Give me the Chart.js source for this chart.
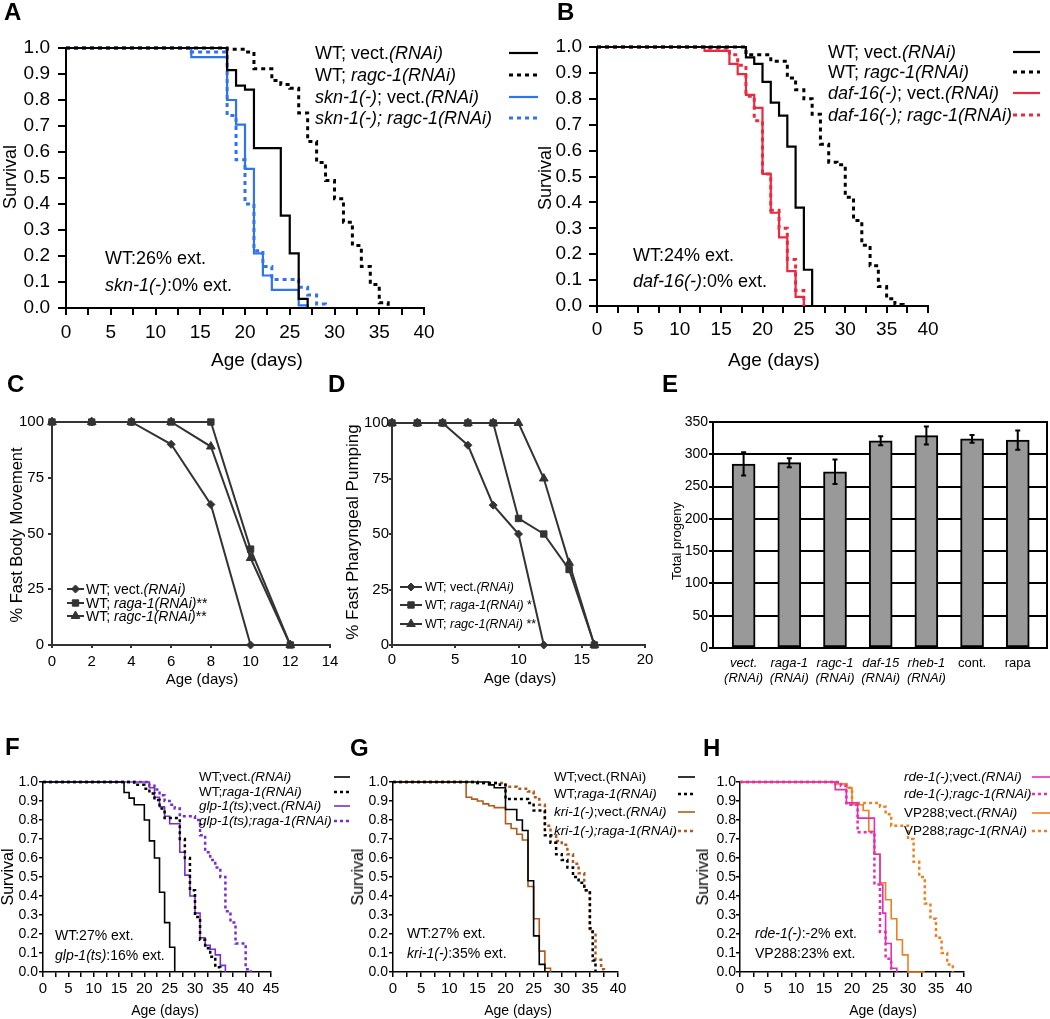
<!DOCTYPE html>
<html><head><meta charset="utf-8">
<script src="https://cdn.jsdelivr.net/npm/chart.js@4.4.1/dist/chart.umd.min.js"></script>
<style>
html,body{margin:0;padding:0;background:#fff;}
#wrap{position:relative;width:1050px;height:1019px;overflow:hidden;background:#fff;font-family:'Liberation Sans',Arial,sans-serif;color:#000;}
canvas{position:absolute;left:0;top:0;}
.t{position:absolute;white-space:nowrap;line-height:1;}
.l{transform:translateY(-50%);}
.c{transform:translate(-50%,-50%);}
.r{transform:translate(-50%,-50%) rotate(-90deg);}
.p{font-weight:bold;font-size:24px;}
</style></head>
<body><div id="wrap">
<canvas id="cA" width="1050" height="1019"></canvas>
<canvas id="cB" width="1050" height="1019"></canvas>
<canvas id="cC" width="1050" height="1019"></canvas>
<canvas id="cD" width="1050" height="1019"></canvas>
<canvas id="cE" width="1050" height="1019"></canvas>
<canvas id="cF" width="1050" height="1019"></canvas>
<canvas id="cG" width="1050" height="1019"></canvas>
<canvas id="cH" width="1050" height="1019"></canvas>

<!-- Panel A -->
<div class="t p l" style="left:4px;top:12px">A</div>
<div class="t l" style="left:315px;top:53px;font-size:18px">WT; vect.<i>(RNAi)</i></div>
<div class="t l" style="left:315px;top:75px;font-size:18px">WT; <i>ragc-1(RNAi)</i></div>
<div class="t l" style="left:315px;top:97px;font-size:18px"><i>skn-1(-)</i>; vect.<i>(RNAi)</i></div>
<div class="t l" style="left:315px;top:118px;font-size:18px"><i>skn-1(-); ragc-1(RNAi)</i></div>
<div class="t l" style="left:105px;top:258px;font-size:18px">WT:26% ext.</div>
<div class="t l" style="left:105px;top:285px;font-size:18px"><i>skn-1(-)</i>:0% ext.</div>
<div class="t r" style="left:10px;top:177px;font-size:18px">Survival</div>
<div class="t c" style="left:257px;top:359px;font-size:19px">Age (days)</div>

<!-- Panel B -->
<div class="t p l" style="left:557px;top:12px">B</div>
<div class="t l" style="left:828px;top:52px;font-size:18px">WT; vect.<i>(RNAi)</i></div>
<div class="t l" style="left:828px;top:72px;font-size:18px">WT; <i>ragc-1(RNAi)</i></div>
<div class="t l" style="left:828px;top:93px;font-size:18px"><i>daf-16(-)</i>; vect.<i>(RNAi)</i></div>
<div class="t l" style="left:828px;top:115px;font-size:18px"><i>daf-16(-); ragc-1(RNAi)</i></div>
<div class="t l" style="left:633px;top:255px;font-size:18px">WT:24% ext.</div>
<div class="t l" style="left:633px;top:281px;font-size:18px"><i>daf-16(-)</i>:0% ext.</div>
<div class="t r" style="left:545px;top:178px;font-size:18px">Survival</div>
<div class="t c" style="left:774px;top:359px;font-size:19px">Age (days)</div>

<!-- Panel C -->
<div class="t p l" style="left:7px;top:384px">C</div>
<div class="t l" style="left:86px;top:589px;font-size:14px">WT; vect.<i>(RNAi)</i></div>
<div class="t l" style="left:86px;top:603px;font-size:14px">WT; <i>raga-1(RNAi)</i>**</div>
<div class="t l" style="left:86px;top:616px;font-size:14px">WT; <i>ragc-1(RNAi)</i>**</div>
<div class="t r" style="left:16px;top:535px;font-size:16.5px">% Fast Body Movement</div>
<div class="t c" style="left:202px;top:678px;font-size:15px">Age (days)</div>

<!-- Panel D -->
<div class="t p l" style="left:328px;top:384px">D</div>
<div class="t l" style="left:425px;top:587px;font-size:12.5px">WT; vect.<i>(RNAi)</i></div>
<div class="t l" style="left:425px;top:605px;font-size:12.5px">WT; <i>raga-1(RNAi)</i> *</div>
<div class="t l" style="left:425px;top:624px;font-size:12.5px">WT; <i>ragc-1(RNAi)</i> **</div>
<div class="t r" style="left:352px;top:532px;font-size:17px">% Fast Pharyngeal Pumping</div>
<div class="t c" style="left:520px;top:677px;font-size:15px">Age (days)</div>

<!-- Panel E -->
<div class="t p l" style="left:662px;top:384px">E</div>
<div class="t r" style="left:676px;top:541px;font-size:13px">Total progeny</div>

<!-- Panel F -->
<div class="t p l" style="left:5px;top:747px">F</div>
<div class="t l" style="left:199px;top:777px;font-size:13.5px">WT;vect.<i>(RNAi)</i></div>
<div class="t l" style="left:199px;top:792px;font-size:13.5px">WT;<i>raga-1(RNAi)</i></div>
<div class="t l" style="left:199px;top:806px;font-size:13.5px"><i>glp-1(ts)</i>;vect.<i>(RNAi)</i></div>
<div class="t l" style="left:199px;top:821px;font-size:13.5px"><i>glp-1(ts);raga-1(RNAi)</i></div>
<div class="t l" style="left:55px;top:935px;font-size:14px">WT:27% ext.</div>
<div class="t l" style="left:55px;top:955px;font-size:14px"><i>glp-1(ts)</i>:16% ext.</div>
<div class="t r" style="left:8px;top:877px;font-size:16px">Survival</div>
<div class="t c" style="left:165px;top:1010px;font-size:14px">Age (days)</div>

<!-- Panel G -->
<div class="t p l" style="left:350px;top:748px">G</div>
<div class="t l" style="left:554px;top:777px;font-size:13.5px">WT;vect.(RNAi)</div>
<div class="t l" style="left:554px;top:794px;font-size:13.5px">WT;<i>raga-1(RNAi)</i></div>
<div class="t l" style="left:554px;top:812px;font-size:13.5px"><i>kri-1(-)</i>;vect.<i>(RNAi)</i></div>
<div class="t l" style="left:554px;top:831px;font-size:13.5px"><i>kri-1(-);raga-1(RNAi)</i></div>
<div class="t l" style="left:407px;top:933px;font-size:14px">WT:27% ext.</div>
<div class="t l" style="left:407px;top:953px;font-size:14px"><i>kri-1(-)</i>:35% ext.</div>
<div class="t r" style="left:358px;top:877px;font-size:16px">Survival</div>
<div class="t c" style="left:518px;top:1010px;font-size:14px">Age (days)</div>

<!-- Panel H -->
<div class="t p l" style="left:703px;top:748px">H</div>
<div class="t l" style="left:904px;top:777px;font-size:13.5px"><i>rde-1(-)</i>;vect.<i>(RNAi)</i></div>
<div class="t l" style="left:904px;top:794px;font-size:13.5px"><i>rde-1(-);ragc-1(RNAi)</i></div>
<div class="t l" style="left:904px;top:813px;font-size:13.5px">VP288;vect.<i>(RNAi)</i></div>
<div class="t l" style="left:904px;top:831px;font-size:13.5px">VP288;<i>ragc-1(RNAi)</i></div>
<div class="t l" style="left:755px;top:933px;font-size:14px"><i>rde-1(-)</i>:-2% ext.</div>
<div class="t l" style="left:755px;top:953px;font-size:14px">VP288:23% ext.</div>
<div class="t r" style="left:703px;top:877px;font-size:16px">Survival</div>
<div class="t c" style="left:883px;top:1010px;font-size:14px">Age (days)</div>
</div>

<script>
// ---------------- DATA ----------------
// Panel A (survival, Kaplan-Meier steps)
const A_days_wtVect = [0,18,19,20,21,24,25,26,27];
const A_surv_wtVect = [1,0.915,0.855,0.84,0.615,0.355,0.21,0.035,0];
const A_days_wtRagc = [0,18,20,21,23,24,25,26,27,28,29,30,31,32,33,34,35,36];
const A_surv_wtRagc = [1,0.995,0.985,0.92,0.875,0.86,0.845,0.75,0.64,0.56,0.49,0.42,0.33,0.24,0.16,0.09,0.02,0];
const A_days_sknVect = [0,14,18,19,20,21,22,23,26,27];
const A_surv_sknVect = [1,0.965,0.80,0.705,0.535,0.21,0.125,0.07,0.01,0];
const A_days_sknRagc = [0,14,18,19,20,21,22,23,26,27,28,29];
const A_surv_sknRagc = [1,0.985,0.74,0.57,0.40,0.22,0.16,0.11,0.08,0.05,0.015,0];

// Panel B
const B_days_wtVect = [0,18,19,20,21,22,23,24,25,26,27];
const B_surv_wtVect = [1,0.96,0.935,0.865,0.785,0.735,0.615,0.38,0.14,0,0];
const B_days_wtRagc = [0,18,21,23,24,25,26,27,28,29,30,31,32,33,34,35,36,37];
const B_surv_wtRagc = [1,0.97,0.945,0.88,0.835,0.80,0.74,0.625,0.555,0.545,0.42,0.33,0.235,0.155,0.075,0.028,0.006,0];
const B_days_dafVect = [0,13,16,17,18,19,20,21,22,23,24,25];
const B_surv_dafVect = [1,0.985,0.935,0.895,0.815,0.765,0.51,0.36,0.265,0.135,0.035,0];
const B_days_dafRagc = [0,13,16,17,18,19,20,21,22,23,24,25];
const B_surv_dafRagc = [1,0.995,0.97,0.93,0.81,0.715,0.51,0.37,0.30,0.18,0.06,0];

// Panel C (% fast body movement)
const C_days = [0,2,4,6,8,10,12];
const C_vect = [100,100,100,90,63,0];
const C_raga = [100,100,100,100,100,43,0];
const C_ragc = [100,100,100,100,89,39,0];

// Panel D (% fast pharyngeal pumping)
const D_days = [0,2,4,6,8,10,12,14,16];
const D_vect = [100,100,100,90,63,50,0];
const D_raga = [100,100,100,100,100,57,50,34,0];
const D_ragc = [100,100,100,100,100,100,75,37,0];

// Panel E (total progeny)
const E_categories = ['vect. (RNAi)','raga-1 (RNAi)','ragc-1 (RNAi)','daf-15 (RNAi)','rheb-1 (RNAi)','cont.','rapa'];
const E_progeny = [285,287,273,321,329,324,322];
const E_error = [18,7,19,7,14,6,15];

// Panel F
const F_days_wtVect = [0,16,17,18,20,21,22,23,24,25,26];
const F_surv_wtVect = [1,0.945,0.915,0.88,0.80,0.69,0.60,0.42,0.26,0.13,0];
const F_days_wtRaga = [0,18,20,21,22,23,24,27,28,29,30,31,32,33,34,35];
const F_surv_wtRaga = [1,0.985,0.965,0.94,0.905,0.86,0.81,0.70,0.60,0.43,0.29,0.17,0.125,0.08,0.025,0];
const F_days_glpVect = [0,21,22,23,24,25,27,28,29,30,31,32,33,34,35,36];
const F_surv_glpVect = [1,0.97,0.92,0.87,0.82,0.78,0.63,0.51,0.40,0.31,0.18,0.14,0.12,0.09,0.035,0];
const F_days_glpRaga = [0,21,22,23,24,25,26,27,30,31,32,33,34,35,36,37,38,40,41];
const F_surv_glpRaga = [1,0.98,0.96,0.93,0.90,0.88,0.86,0.82,0.80,0.72,0.63,0.59,0.55,0.50,0.32,0.26,0.15,0.015,0];

// Panel G
const G_days_wtVect = [0,17,18,20,22,23,24,25,26,27];
const G_surv_wtVect = [1,0.985,0.97,0.855,0.80,0.745,0.48,0.19,0.04,0];
const G_days_wtRaga = [0,15,19,20,24,25,27,28,29,30,31,32,33,34,35,35.5,36];
const G_surv_wtRaga = [1,0.995,0.985,0.91,0.89,0.85,0.72,0.68,0.62,0.59,0.55,0.50,0.47,0.43,0.23,0.06,0];
const G_days_kriVect = [0,13,14,15,16,17,18,20,21,22,23,24,25,26,27,28];
const G_surv_kriVect = [1,0.92,0.91,0.90,0.885,0.875,0.865,0.78,0.755,0.725,0.695,0.45,0.28,0.11,0.02,0];
const G_days_kriRaga = [0,15,20,22,24,25,26,27,28,29,30,31,32,33,34,35,36,37,37.5];
const G_surv_kriRaga = [1,0.995,0.975,0.965,0.95,0.92,0.88,0.77,0.72,0.69,0.67,0.62,0.57,0.52,0.43,0.21,0.065,0.015,0];

// Panel H
const H_days_rdeVect = [0,17,19,21,24,25,25.5,26,27,28];
const H_surv_rdeVect = [1,0.96,0.89,0.81,0.62,0.46,0.31,0.15,0.02,0];
const H_days_rdeRagc = [0,18,19,21,24,25,26,27];
const H_surv_rdeRagc = [1,0.98,0.88,0.735,0.46,0.21,0.07,0];
const H_days_vpVect = [0,17,19,20,22,23,24,25,26,27,28,29,30,33];
const H_surv_vpVect = [1,0.99,0.97,0.88,0.85,0.74,0.62,0.47,0.38,0.28,0.17,0.09,0,0];
const H_days_vpRagc = [0,17,19,20,25,26,27,30,31,32,33,34,35,36,37,38];
const H_surv_vpRagc = [1,0.99,0.97,0.89,0.87,0.83,0.77,0.70,0.58,0.50,0.36,0.28,0.18,0.10,0.04,0];

// ---------------- HELPERS ----------------
Chart.defaults.font.family = "'Liberation Sans', Arial, sans-serif";
Chart.defaults.color = '#000';
Chart.defaults.animation = false;

const W = 1050, H = 1019;
function pts(xs, ys){ return ys.map((y,i)=>({x:xs[i], y:y})); }
function fixW(w){ return s => { s.width = w; s.paddingLeft = 0; s.paddingRight = 0; s.paddingTop = 0; s.paddingBottom = 0; }; }
function fixH(h){ return s => { s.height = h; s.paddingLeft = 0; s.paddingRight = 0; s.paddingTop = 0; s.paddingBottom = 0; }; }
function yWidth(a){ return Math.min(a.l, 70); }
function pad(a, yW, xH){ return {left:a.l - yW, top:a.t, right:W - a.r, bottom:H - a.b - xH}; }

function samples(items){
  return {id:'samples', afterDatasetsDraw(chart){
    const ctx = chart.ctx;
    items.forEach(it => {
      const ds = chart.data.datasets[it.i];
      ctx.save();
      ctx.strokeStyle = ds.borderColor; ctx.lineWidth = ds.borderWidth;
      ctx.setLineDash(ds.borderDash || []);
      ctx.beginPath(); ctx.moveTo(it.x1, it.y); ctx.lineTo(it.x2, it.y); ctx.stroke();
      if (ds.pointStyle && ds.pointRadius) {
        ctx.setLineDash([]); ctx.fillStyle = ds.backgroundColor; ctx.lineWidth = 1;
        Chart.helpers.drawPoint(ctx, {pointStyle: ds.pointStyle, radius: ds.pointRadius, rotation: 0, borderWidth: 1}, (it.x1 + it.x2) / 2, it.y);
      }
      ctx.restore();
    });
  }};
}

function kmSet(days, surv, color, dotted, big){
  return {data: pts(days, surv), borderColor: color, backgroundColor: color,
    borderWidth: dotted ? (big ? 3 : 2.5) : (big ? 2.2 : 1.6),
    borderDash: dotted ? (big ? [4,4] : [3,3]) : [],
    stepped: 'before', fill: false, pointRadius: 0, clip: false};
}

function kmChart(id, area, xMax, datasets, o, legendRows, lx1, lx2){
  const yW = yWidth(area), xH = 40;
  const items = legendRows.map((y,i)=>({i:i, y:y, x1:lx1, x2:lx2}));
  return new Chart(document.getElementById(id), {
    type: 'line',
    data: {datasets: datasets},
    options: {
      responsive: false, animation: false, devicePixelRatio: 1, events: [],
      layout: {padding: pad(area, yW, xH)},
      plugins: {legend: {display: false}, tooltip: {enabled: false}},
      scales: {
        x: {type: 'linear', min: 0, max: xMax, afterFit: fixH(xH),
          ticks: {stepSize: 2.5, autoSkip: false, maxRotation: 0, padding: o.xPad, font: {size: o.xFont}, color: '#000',
            callback: v => (Math.abs(v % 5) < 1e-6 ? String(Math.round(v)) : '')},
          grid: {display: true, drawOnChartArea: false, drawTicks: true, tickLength: o.xTick, color: '#000', lineWidth: o.axisW},
          border: {display: true, color: '#000', width: o.axisW}},
        y: {type: 'linear', min: 0, max: 1, afterFit: fixW(yW),
          ticks: {stepSize: 0.1, autoSkip: false, padding: o.yPad, font: {size: o.yFont}, color: '#000', callback: v => Number(v).toFixed(1)},
          grid: {display: true, drawOnChartArea: false, drawTicks: true, tickLength: o.yTick, color: '#000', lineWidth: o.axisW},
          border: {display: true, color: '#000', width: o.axisW}}
      }
    },
    plugins: [samples(items)]
  });
}

function pctSet(days, vals, style, r){
  return {data: pts(days, vals), borderColor: '#333', backgroundColor: '#333', borderWidth: 2,
    pointStyle: style, pointRadius: r, pointBorderWidth: 1, pointBorderColor: '#333', pointBackgroundColor: '#333',
    tension: 0, fill: false, clip: false};
}

function pctChart(id, area, xMax, xStep, datasets, o, legendRows, lx1, lx2){
  const yW = yWidth(area), xH = 40;
  const items = legendRows.map((y,i)=>({i:i, y:y, x1:lx1, x2:lx2}));
  return new Chart(document.getElementById(id), {
    type: 'line',
    data: {datasets: datasets},
    options: {
      responsive: false, animation: false, devicePixelRatio: 1, events: [],
      layout: {padding: pad(area, yW, xH)},
      plugins: {legend: {display: false}, tooltip: {enabled: false}},
      scales: {
        x: {type: 'linear', min: 0, max: xMax, afterFit: fixH(xH),
          ticks: {stepSize: xStep, autoSkip: false, maxRotation: 0, padding: o.xPad, font: {size: 15}, color: '#000'},
          grid: {display: true, drawOnChartArea: false, drawTicks: true, tickLength: 3, color: '#333', lineWidth: 2},
          border: {display: true, color: '#333', width: 2}},
        y: {type: 'linear', min: 0, max: 100, afterFit: fixW(yW),
          ticks: {stepSize: 25, autoSkip: false, padding: o.yPad, font: {size: 15}, color: '#000'},
          grid: {display: true, drawOnChartArea: false, drawTicks: true, tickLength: o.yTick, color: '#333', lineWidth: 2},
          border: {display: true, color: '#333', width: 2}}
      }
    },
    plugins: [samples(items)]
  });
}

// ---------------- CHARTS ----------------
const BLUE = '#2f74ee', RED = '#eb2a3f', PURPLE = '#7a2dc8', BROWN = '#b3591c', PINK = '#e62db4', ORANGE = '#f07f1e';
const bigO = {xFont: 19, yFont: 19, xTick: 7, yTick: 8, xPad: 6, yPad: 8, axisW: 2};
const smallO = {xFont: 15, yFont: 14, xTick: 5, yTick: 4, xPad: 3, yPad: 1, axisW: 1.5};

kmChart('cA', {l:66, t:48, r:424, b:308}, 40, [
  kmSet(A_days_wtVect, A_surv_wtVect, '#000', false, true),
  kmSet(A_days_wtRagc, A_surv_wtRagc, '#000', true, true),
  kmSet(A_days_sknVect, A_surv_sknVect, BLUE, false, true),
  kmSet(A_days_sknRagc, A_surv_sknRagc, BLUE, true, true)
], bigO, [53, 75, 97, 118], 509, 538);

kmChart('cB', {l:597, t:47, r:928, b:306}, 40, [
  kmSet(B_days_wtVect, B_surv_wtVect, '#000', false, true),
  kmSet(B_days_wtRagc, B_surv_wtRagc, '#000', true, true),
  kmSet(B_days_dafVect, B_surv_dafVect, RED, false, true),
  kmSet(B_days_dafRagc, B_surv_dafRagc, RED, true, true)
], Object.assign({}, bigO, {xPad: 5, yPad: 7}), [52, 72, 93, 115], 1013, 1040);

pctChart('cC', {l:52, t:422, r:330, b:645}, 14, 2, [
  pctSet(C_days, C_vect, 'rectRot', 4),
  pctSet(C_days, C_raga, 'rect', 4.5),
  pctSet(C_days, C_ragc, 'triangle', 5)
], {xPad: 5, yPad: 4, yTick: 4}, [589, 603, 616], 67, 84);

pctChart('cD', {l:392, t:423, r:645, b:645}, 20, 5, [
  pctSet(D_days, D_vect, 'rectRot', 4),
  pctSet(D_days, D_raga, 'rect', 4.5),
  pctSet(D_days, D_ragc, 'triangle', 5)
], {xPad: 3, yPad: 0, yTick: 3}, [587, 605, 624], 400, 422);

// Panel E bar chart with error bars
const errorBars = {id: 'errorBars', afterDatasetsDraw(chart){
  const ctx = chart.ctx, meta = chart.getDatasetMeta(0), ys = chart.scales.y;
  ctx.save(); ctx.strokeStyle = '#000'; ctx.lineWidth = 2;
  meta.data.forEach((bar, i) => {
    const top = ys.getPixelForValue(E_progeny[i] + E_error[i]);
    const bot = ys.getPixelForValue(E_progeny[i] - E_error[i]);
    ctx.beginPath();
    ctx.moveTo(bar.x, top); ctx.lineTo(bar.x, bot);
    ctx.moveTo(bar.x - 2.5, top); ctx.lineTo(bar.x + 2.5, top);
    ctx.moveTo(bar.x - 2.5, bot); ctx.lineTo(bar.x + 2.5, bot);
    ctx.stroke();
  });
  ctx.restore();
}};
const frameRight = {id: 'frameRight', beforeDatasetsDraw(chart){
  const a = chart.chartArea, ctx = chart.ctx;
  ctx.save(); ctx.strokeStyle = '#000'; ctx.lineWidth = 2;
  ctx.beginPath(); ctx.moveTo(a.right, a.top - 1); ctx.lineTo(a.right, a.bottom + 1); ctx.stroke();
  ctx.restore();
}};
(function(){
  const area = {l:713, t:422, r:1047, b:648};
  const yW = yWidth(area), xH = 40;
  new Chart(document.getElementById('cE'), {
    type: 'bar',
    data: {datasets: [{data: pts(E_categories.map((c,i)=>i), E_progeny), backgroundColor: '#999999', borderColor: '#000',
      borderWidth: 2, borderSkipped: false, barThickness: 23}]},
    options: {
      responsive: false, animation: false, devicePixelRatio: 1, events: [],
      layout: {padding: pad(area, yW, xH)},
      plugins: {legend: {display: false}, tooltip: {enabled: false}},
      scales: {
        x: {type: 'linear', min: -0.67, max: 6.64, offset: false, afterFit: fixH(xH),
          afterBuildTicks: s => { s.ticks = E_categories.map((c,i)=>({value: i})); },
          ticks: {autoSkip: false, maxRotation: 0, padding: 8, color: '#000',
            font: c => ({size: 13, style: (c.index < 5 ? 'italic' : 'normal'), lineHeight: 1.15}),
            callback: v => { const c = E_categories[Math.round(v)]; return c ? c.split(' ') : ''; }},
          grid: {display: false, drawTicks: false},
          border: {display: true, color: '#000', width: 2}},
        y: {type: 'linear', min: 0, max: 350, afterFit: fixW(yW),
          ticks: {stepSize: 50, autoSkip: false, padding: 1, font: {size: 14}, color: '#000'},
          grid: {display: true, drawOnChartArea: true, drawTicks: true, tickLength: 4, color: '#000', lineWidth: 2},
          border: {display: true, color: '#000', width: 2}}
      }
    },
    plugins: [frameRight, errorBars]
  });
})();

kmChart('cF', {l:43, t:782, r:271, b:972}, 45, [
  kmSet(F_days_wtVect, F_surv_wtVect, '#000', false, false),
  kmSet(F_days_wtRaga, F_surv_wtRaga, '#000', true, false),
  kmSet(F_days_glpVect, F_surv_glpVect, PURPLE, false, false),
  kmSet(F_days_glpRaga, F_surv_glpRaga, PURPLE, true, false)
], smallO, [777, 792, 806, 821], 334, 350);

kmChart('cG', {l:393, t:782, r:618, b:972}, 40, [
  kmSet(G_days_wtVect, G_surv_wtVect, '#000', false, false),
  kmSet(G_days_wtRaga, G_surv_wtRaga, '#000', true, false),
  kmSet(G_days_kriVect, G_surv_kriVect, BROWN, false, false),
  kmSet(G_days_kriRaga, G_surv_kriRaga, BROWN, true, false)
], smallO, [777, 794, 812, 831], 678, 695);

kmChart('cH', {l:740, t:782, r:964, b:972}, 40, [
  kmSet(H_days_rdeVect, H_surv_rdeVect, PINK, false, false),
  kmSet(H_days_rdeRagc, H_surv_rdeRagc, PINK, true, false),
  kmSet(H_days_vpVect, H_surv_vpVect, ORANGE, false, false),
  kmSet(H_days_vpRagc, H_surv_vpRagc, ORANGE, true, false)
], Object.assign({}, smallO, {yPad: 0}), [777, 794, 813, 831], 1032, 1050);
</script>
</body></html>
